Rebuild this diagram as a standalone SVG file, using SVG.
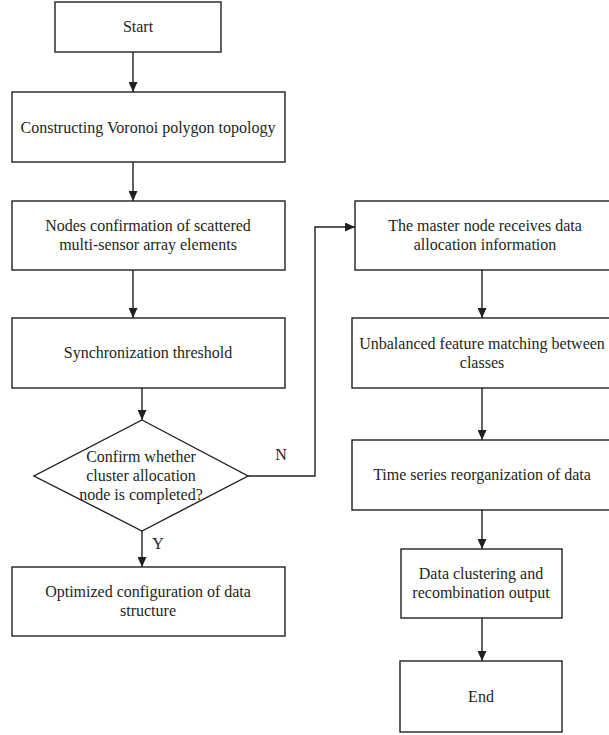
<svg xmlns="http://www.w3.org/2000/svg" width="609" height="735" viewBox="0 0 609 735">
<style>
.box{fill:#fff;stroke:#231f20;stroke-width:1.4}
.t{font-family:"Liberation Serif","Times New Roman",serif;font-size:16px;fill:#231f20;text-anchor:middle}
.c{fill:none;stroke:#231f20;stroke-width:1.4}
</style>
<defs>
<marker id="ah" markerUnits="userSpaceOnUse" markerWidth="10" markerHeight="9" refX="10" refY="4.5" orient="auto">
<path d="M0,0 L10,4.5 L0,9 z" fill="#231f20"/>
</marker>
</defs>
<rect width="609" height="735" fill="#fff"/>
<g id="connectors">
<line class="c" x1="133" y1="52" x2="133" y2="92" marker-end="url(#ah)"/>
<line class="c" x1="133" y1="162" x2="133" y2="201" marker-end="url(#ah)"/>
<line class="c" x1="133" y1="270" x2="133" y2="318" marker-end="url(#ah)"/>
<line class="c" x1="142" y1="388" x2="142" y2="420" marker-end="url(#ah)"/>
<line class="c" x1="142" y1="531" x2="142" y2="567" marker-end="url(#ah)"/>
<polyline class="c" points="248,476 315,476 315,227 355,227" marker-end="url(#ah)"/>
<line class="c" x1="482" y1="270" x2="482" y2="318" marker-end="url(#ah)"/>
<line class="c" x1="482" y1="388" x2="482" y2="440" marker-end="url(#ah)"/>
<line class="c" x1="482" y1="510" x2="482" y2="549" marker-end="url(#ah)"/>
<line class="c" x1="482" y1="618" x2="482" y2="661" marker-end="url(#ah)"/>
<text class="t" x="281" y="460">N</text>
<text class="t" x="158" y="549">Y</text>
</g>
<g id="start">
<rect class="box" x="55" y="2" width="166" height="50"/>
<text class="t" x="138" y="32">Start</text>
</g>
<g id="voronoi">
<rect class="box" x="12" y="92" width="273" height="70"/>
<text class="t" x="148" y="133">Constructing Voronoi polygon topology</text>
</g>
<g id="nodes-confirmation">
<rect class="box" x="12" y="201" width="273" height="69"/>
<text class="t" x="148" y="231">Nodes confirmation of scattered</text>
<text class="t" x="148" y="250">multi-sensor array elements</text>
</g>
<g id="sync">
<rect class="box" x="12" y="318" width="273" height="70"/>
<text class="t" x="148" y="358">Synchronization threshold</text>
</g>
<g id="decision">
<polygon class="box" points="142,420 248,476 142,531 34,476"/>
<text class="t" x="141" y="462">Confirm whether</text>
<text class="t" x="141" y="481">cluster allocation</text>
<text class="t" x="141" y="500">node is completed?</text>
</g>
<g id="optimized">
<rect class="box" x="12" y="567" width="273" height="69"/>
<text class="t" x="148" y="597">Optimized configuration of data</text>
<text class="t" x="148" y="616">structure</text>
</g>
<g id="master">
<rect class="box" x="355" y="201" width="264" height="69"/>
<text class="t" x="485" y="231">The master node receives data</text>
<text class="t" x="485" y="250">allocation information</text>
</g>
<g id="unbalanced">
<rect class="box" x="352" y="318" width="267" height="70"/>
<text class="t" x="482" y="349">Unbalanced feature matching between</text>
<text class="t" x="482" y="368">classes</text>
</g>
<g id="time-series">
<rect class="box" x="352" y="440" width="267" height="70"/>
<text class="t" x="482" y="480">Time series reorganization of data</text>
</g>
<g id="clustering">
<rect class="box" x="401" y="549" width="161" height="69"/>
<text class="t" x="481" y="579">Data clustering and</text>
<text class="t" x="481" y="598">recombination output</text>
</g>
<g id="end">
<rect class="box" x="400" y="661" width="162" height="71"/>
<text class="t" x="481" y="702">End</text>
</g>
</svg>
